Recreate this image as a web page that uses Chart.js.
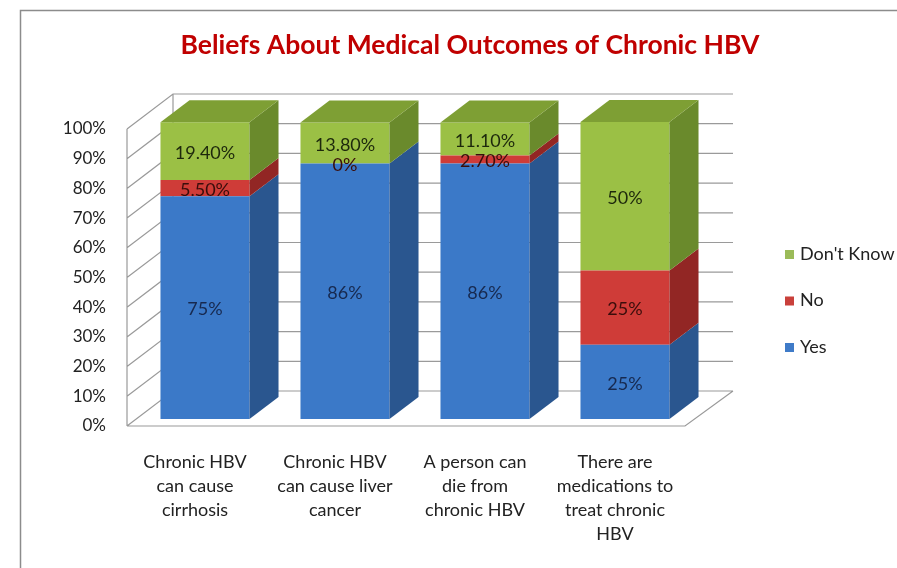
<!DOCTYPE html>
<html lang="en">
<head>
<meta charset="utf-8">
<title>Beliefs About Medical Outcomes of Chronic HBV</title>
<style>
  html, body { margin: 0; padding: 0; background: #fff; overflow: hidden; }
  #wrap { width: 897px; height: 568px; }
</style>
</head>
<body>
<div id="wrap"><canvas id="hbvChart"></canvas></div>
<script src="https://cdn.jsdelivr.net/npm/chart.js@4.4.0/dist/chart.umd.min.js"></script>
<script>
var chartTitle = 'Beliefs About Medical Outcomes of Chronic HBV';
var categories = [
  ['Chronic HBV', 'can cause', 'cirrhosis'],
  ['Chronic HBV', 'can cause liver', 'cancer'],
  ['A person can', 'die from', 'chronic HBV'],
  ['There are', 'medications to', 'treat chronic', 'HBV']
];
var yesValues = [75, 86, 86, 25];
var noValues = [5.5, 0, 2.7, 25];
var dontKnowValues = [19.4, 13.8, 11.1, 50];

// front, side, top and label colour for each series
var yesColors = { front: '#3b79c8', side: '#2a568f', top: '#3467ad', text: '#17294f', legend: '#3f7bc8' };
var noColors = { front: '#cf3c38', side: '#922624', top: '#b0302d', text: '#3a0d0b', legend: '#c9403b' };
var dkColors = { front: '#9bc045', side: '#6a8a2c', top: '#7e9f34', text: '#1d280c', legend: '#9bbb59' };

var FONT = 'Lato, "Open Sans", sans-serif';
var BAR_DX = 29, BAR_DY = -22;     // depth of each column
var WALL_DX = 46, WALL_DY = -35;   // depth of the floor / side wall

function pctLabel(v) {
  if (Math.round(v) === v) return v + '%';
  return v.toFixed(2) + '%';
}

function poly(ctx, pts, fill) {
  ctx.beginPath();
  ctx.moveTo(pts[0][0], pts[0][1]);
  for (var i = 1; i < pts.length; i++) ctx.lineTo(pts[i][0], pts[i][1]);
  ctx.closePath();
  ctx.fillStyle = fill;
  ctx.fill();
}

var box3d = {
  id: 'box3d',
  beforeDraw: function(chart) {
    var ctx = chart.ctx;
    ctx.save();
    ctx.fillStyle = '#fff';
    ctx.fillRect(0, 0, chart.width, chart.height);
    ctx.strokeStyle = '#8c8c8c';
    ctx.lineWidth = 1.5;
    ctx.strokeRect(20.5, 10.5, chart.width, chart.height);
    ctx.fillStyle = '#c00000';
    ctx.font = 'bold 26.5px ' + FONT;
    ctx.textAlign = 'center';
    ctx.textBaseline = 'middle';
    ctx.fillText(chartTitle, 470, 45);
    ctx.restore();
  },
  beforeDatasetsDraw: function(chart) {
    var ctx = chart.ctx, area = chart.chartArea, ys = chart.scales.y;
    var fx = area.left - 8, bx = fx + WALL_DX;
    var backRight = area.right + 38;
    var frontRight = backRight - WALL_DX - 2;
    ctx.save();
    ctx.strokeStyle = '#9a9a9a';
    ctx.lineWidth = 1.2;
    ctx.beginPath();
    ys.ticks.forEach(function(t) {
      var yf = ys.getPixelForValue(t.value) + 7;
      var yb = yf + WALL_DY;
      ctx.moveTo(fx, yf);
      ctx.lineTo(bx, yb);
      ctx.lineTo(backRight, yb);
    });
    var top = ys.getPixelForValue(100) + 7, bottom = ys.getPixelForValue(0) + 7;
    // side wall front edge
    ctx.moveTo(fx, top);
    ctx.lineTo(fx, bottom);
    // side wall back edge
    ctx.moveTo(bx, top + WALL_DY);
    ctx.lineTo(bx, bottom + WALL_DY);
    // floor
    ctx.moveTo(fx, bottom);
    ctx.lineTo(frontRight, bottom);
    ctx.lineTo(backRight, bottom + WALL_DY);
    ctx.stroke();
    ctx.restore();
  },
  afterDatasetsDraw: function(chart) {
    var ctx = chart.ctx;
    var last = chart.data.datasets.length - 1;
    ctx.save();
    chart.data.datasets.forEach(function(ds, di) {
      var meta = chart.getDatasetMeta(di);
      meta.data.forEach(function(bar, i) {
        if (!ds.data[i]) return;
        var p = bar.getProps(['x', 'y', 'base', 'width'], true);
        var l = p.x - p.width / 2, r = p.x + p.width / 2;
        poly(ctx, [[r, p.y], [r + BAR_DX, p.y + BAR_DY], [r + BAR_DX, p.base + BAR_DY], [r, p.base]], ds.faces.side);
        if (di === last) {
          poly(ctx, [[l, p.y], [l + BAR_DX, p.y + BAR_DY], [r + BAR_DX, p.y + BAR_DY], [r, p.y]], ds.faces.top);
        }
      });
    });
    // value labels
    ctx.font = '18px ' + FONT;
    ctx.textAlign = 'center';
    ctx.textBaseline = 'middle';
    chart.data.datasets.forEach(function(ds, di) {
      var meta = chart.getDatasetMeta(di);
      meta.data.forEach(function(bar, i) {
        var p = bar.getProps(['x', 'y', 'base'], true);
        ctx.fillStyle = ds.faces.text;
        ctx.fillText(pctLabel(ds.data[i]), p.x, (p.y + p.base) / 2 + 2);
      });
    });
    ctx.restore();
  },
  afterDraw: function(chart) {
    // legend, listed top-down from the last series
    var ctx = chart.ctx;
    var sets = chart.data.datasets.slice().reverse();
    ctx.save();
    ctx.font = '18px ' + FONT;
    ctx.textBaseline = 'middle';
    ctx.textAlign = 'left';
    sets.forEach(function(ds, k) {
      var y = 254 + k * 46.5;
      ctx.fillStyle = ds.faces.legend;
      ctx.fillRect(785, y - 4, 9, 9);
      ctx.fillStyle = '#222';
      ctx.fillText(ds.label, 800, y);
    });
    ctx.restore();
  }
};

var data = {
  labels: categories,
  datasets: [{
    label: 'Yes',
    data: yesValues,
    backgroundColor: yesColors.front,
    faces: yesColors
  }, {
    label: 'No',
    data: noValues,
    backgroundColor: noColors.front,
    faces: noColors
  }, {
    label: "Don't Know",
    data: dontKnowValues,
    backgroundColor: dkColors.front,
    faces: dkColors
  }]
};

var chart = new Chart(document.getElementById('hbvChart'), {
  type: 'bar',
  data: data,
  plugins: [box3d],
  options: {
    responsive: true,
    maintainAspectRatio: false,
    animation: false,
    datasets: {
      bar: { categoryPercentage: 1, barPercentage: 0.636, borderWidth: 0 }
    },
    layout: { padding: { top: 122, right: 202, bottom: 0, left: 0 } },
    plugins: {
      legend: { display: false },
      tooltip: { enabled: false }
    },
    scales: {
      x: {
        stacked: true,
        grid: { display: false, drawTicks: false },
        border: { display: false },
        ticks: {
          color: '#222',
          font: { family: FONT, size: 18, lineHeight: 1.333 },
          padding: 31,
          labelOffset: -10,
          maxRotation: 0,
          autoSkip: false
        },
        afterFit: function(scale) { scale.height = 149; }
      },
      y: {
        stacked: true,
        min: 0,
        max: 100,
        grid: { display: false, drawTicks: false },
        border: { display: false },
        ticks: {
          stepSize: 10,
          color: '#222',
          font: { family: FONT, size: 17 },
          padding: 29,
          labelOffset: 7,
          callback: function(v) { return v + '%'; }
        },
        afterFit: function(scale) { scale.width = 135; }
      }
    }
  }
});
</script>
</body>
</html>
